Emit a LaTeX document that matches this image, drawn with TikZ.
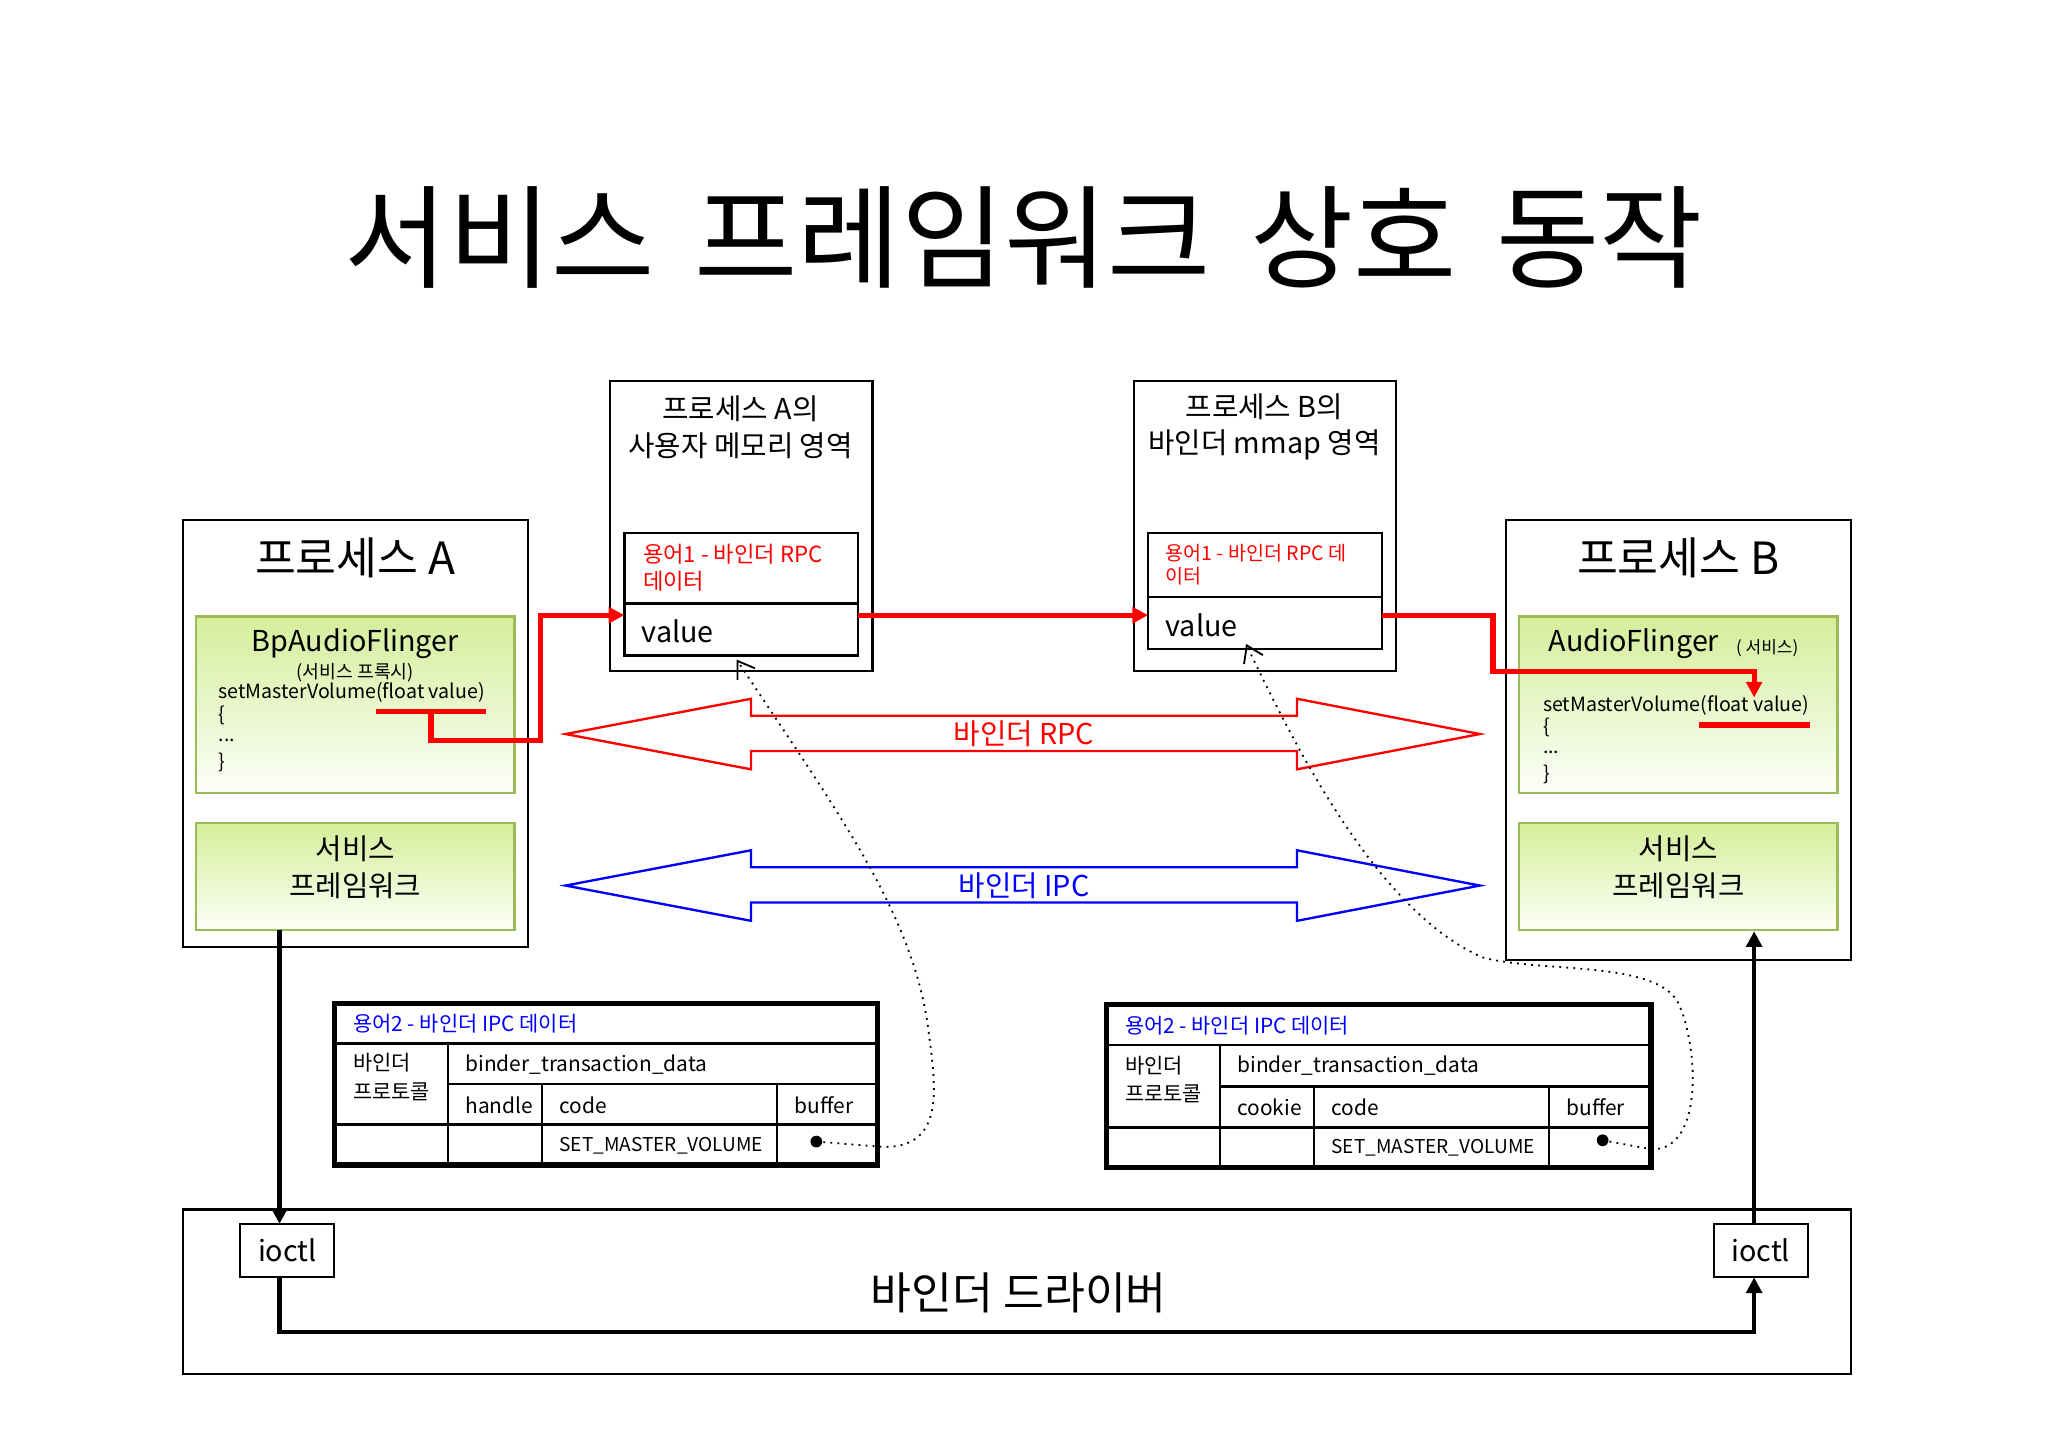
\documentclass[tikz,border=0pt]{standalone}
\usepackage{fontspec}
\setmainfont{Noto Sans CJK KR}
\usetikzlibrary{arrows.meta}
\definecolor{gb}{HTML}{9BBB59}
\definecolor{gt}{HTML}{D4EE9A}
\begin{document}
\begin{tikzpicture}[x=0.5pt,y=-0.5pt,
  box/.style={draw,line width=0.8pt},
  gbox/.style={draw=gb,line width=1pt,top color=gt,bottom color=white!95!gt},
  rpath/.style={draw=red,line width=2pt},
  bpath/.style={draw=black,line width=1.6pt},
  dots/.style={dotted,line width=0.7pt},
  fsA/.style={font=\fontsize{11}{14}\selectfont},
  small/.style={font=\fontsize{7.5}{9}\selectfont}]
\useasboundingbox (0,0) rectangle (1568,1108);
\node (title) at (784,182) {\fontsize{43}{48}\selectfont 서비스\hspace{0.35em}프레임워크\hspace{0.35em}상호\hspace{0.35em}동작};
% process A
\draw[box] (140,398) rectangle (404,725);
\node (pA) at (272,427) {\fontsize{17}{20}\selectfont 프로세스 A};
\draw[gbox] (150,472) rectangle (394,607);
\node[fsA] (bp) at (272,493) {BpAudioFlinger};
\node[font=\fontsize{7}{8}\selectfont] (bpp) at (272,515) {(서비스 프록시)};
\node[small,anchor=west,inner sep=0] (smA) at (167,530) {setMasterVolume(float value)};
\node[small,anchor=west,inner sep=0] at (167,548) {\{};
\node[small,anchor=west,inner sep=0] at (167,567) {...};
\node[small,anchor=west,inner sep=0] at (167,584) {\}};
\draw[gbox] (150,630) rectangle (394,712);
\node[fsA,align=center] (sfA) at (272,664) {서비스\\프레임워크};
% process B
\draw[box] (1153,398) rectangle (1417,735);
\node (pB) at (1285,427) {\fontsize{17}{20}\selectfont 프로세스 B};
\draw[gbox] (1163,472) rectangle (1407,607);
\node[fsA] (af) at (1251,493) {AudioFlinger};
\node[font=\fontsize{6.5}{8}\selectfont] at (1353,496) {( 서비스)};
\node[small,anchor=west,inner sep=0] (smB) at (1181,540) {setMasterVolume(float value)};
\node[small,anchor=west,inner sep=0] at (1181,557) {\{};
\node[small,anchor=west,inner sep=0] at (1181,576) {...};
\node[small,anchor=west,inner sep=0] at (1181,593) {\}};
\draw[gbox] (1163,630) rectangle (1407,712);
\node[fsA,align=center] (sfB) at (1285,664) {서비스\\프레임워크};
% memory A
\draw[box] (467,292) rectangle (668,514);
\node[fsA,align=center] (mA) at (567,327) {프로세스 A의\\사용자 메모리 영역};
\draw[box,line width=1pt] (478,408) rectangle (657,502);
\draw[line width=1pt] (478,462) -- (657,462);
\node[font=\fontsize{8.5}{10.5}\selectfont,text=red,anchor=north west,align=left,inner sep=0] (rA) at (492,416) {용어1 - 바인더 RPC\\데이터};
\node[fsA,anchor=west,inner sep=0] (vA) at (491,483) {value};
% memory B
\draw[box] (868,292) rectangle (1069,514);
\node[fsA,align=center] (mB) at (968,327) {프로세스 B의\\바인더 mmap 영역};
\draw[box,line width=1pt] (879,408) rectangle (1058,497);
\draw[line width=1pt] (879,457) -- (1058,457);
\node[font=\fontsize{7.5}{9}\selectfont,text=red,anchor=north west,align=left,inner sep=0] (rB) at (892,416) {용어1 - 바인더 RPC 데\\이터};
\node[fsA,anchor=west,inner sep=0] (vB) at (892,479) {value};
% red flow
\coordinate (r1) at (288,545); \coordinate (r2) at (372,545);
\draw[rpath] (r1) -- (r2);
\draw[rpath,-{Triangle[length=6pt,width=6pt]}] (330,545) -- (330,567) -- (414,567) -- (414,471) -- (478,471);
\draw[rpath,-{Triangle[length=6pt,width=6pt]}] (657,471) -- (879,471);
\draw[rpath,-{Triangle[length=6pt,width=6pt]}] (1058,471) -- (1143,471) -- (1143,514) -- (1343,514) -- (1343,534);
\draw[rpath] (1301,555) -- (1386,555);
% double arrows
\draw[red,line width=0.9pt] (433,562) -- (575,535) -- (575,548) -- (993,548) -- (993,535) -- (1133,562) -- (993,589) -- (993,575) -- (575,575) -- (575,589) -- cycle;
\node[fsA,text=red,fill=white,inner sep=0pt] (rpc) at (784,562) {바인더 RPC};
\draw[blue,line width=0.9pt] (433,678) -- (575,651) -- (575,664) -- (993,664) -- (993,651) -- (1133,678) -- (993,705) -- (993,691) -- (575,691) -- (575,705) -- cycle;
\node[fsA,text=blue,fill=white,inner sep=0pt] (ipc) at (784,678) {바인더 IPC};
% left table
\begin{scope}[font=\fontsize{8}{11}\selectfont]
\draw[line width=1pt] (256,799) -- (672,799) (343,830) -- (672,830) (256,861) -- (672,861)
  (343,799) -- (343,892) (415,830) -- (415,892) (595,830) -- (595,892);
\draw[line width=2pt] (256,768) rectangle (672,892);
\node[text=blue,anchor=west,inner sep=0] (tA) at (270,784) {용어2 - 바인더 IPC 데이터};
\node[anchor=north west,align=left,inner sep=0] at (270,806) {바인더\\프로토콜};
\node[anchor=west,inner sep=0] at (356,815) {binder\_transaction\_data};
\node[anchor=west,inner sep=0] at (356,846) {handle};
\node[anchor=west,inner sep=0] at (428,846) {code};
\node[anchor=west,inner sep=0] at (608,846) {buffer};
\node[anchor=west,inner sep=0,font=\fontsize{7.3}{9}\selectfont] at (428,877) {SET\_MASTER\_VOLUME};
\fill (625,874) circle (4.5);
% right table
\draw[line width=1pt] (847,800) -- (1264,800) (934,832) -- (1264,832) (847,863) -- (1264,863)
  (934,800) -- (934,894) (1006,832) -- (1006,894) (1186,832) -- (1186,894);
\draw[line width=2pt] (847,769) rectangle (1264,894);
\node[text=blue,anchor=west,inner sep=0] (tB) at (861,785) {용어2 - 바인더 IPC 데이터};
\node[anchor=north west,align=left,inner sep=0] at (861,808) {바인더\\프로토콜};
\node[anchor=west,inner sep=0] at (947,816) {binder\_transaction\_data};
\node[anchor=west,inner sep=0] at (947,848) {cookie};
\node[anchor=west,inner sep=0] at (1019,848) {code};
\node[anchor=west,inner sep=0] at (1199,848) {buffer};
\node[anchor=west,inner sep=0,font=\fontsize{7.3}{9}\selectfont] at (1019,879) {SET\_MASTER\_VOLUME};
\fill (1227,873) circle (4.5);
\end{scope}
% dotted curves
\draw[dots,-{Straight Barb[length=6pt,width=8pt]}] (625,874) -- (675,878) .. controls (725,880) and (716,830) .. (711,790) .. controls (700,700) and (640,620) .. (564,505);
\draw[dots,-{Straight Barb[length=6pt,width=8pt]}] (1227,873) -- (1265,880) .. controls (1305,880) and (1300,800) .. (1285,768) .. controls (1268,735) and (1180,745) .. (1135,733) .. controls (1060,700) and (1000,590) .. (954,493);
% driver
\draw[box] (140,926) rectangle (1417,1052);
\node[box,minimum width=36pt,minimum height=20.5pt,fsA] (io1) at (220,957.5) {ioctl};
\node[box,minimum width=36pt,minimum height=20.5pt,fsA] (io2) at (1348,957.5) {ioctl};
\node (drv) at (780,990) {\fontsize{17}{20}\selectfont 바인더 드라이버};
\draw[bpath,-{Triangle[length=6pt,width=6pt]}] (214,712) -- (214,937);
\draw[bpath,-{Triangle[length=6pt,width=6pt]}] (214,978) -- (214,1020) -- (1343,1020) -- (1343,978);
\draw[bpath,-{Triangle[length=6pt,width=6pt]}] (1343,937) -- (1343,713);
\end{tikzpicture}
\end{document}
